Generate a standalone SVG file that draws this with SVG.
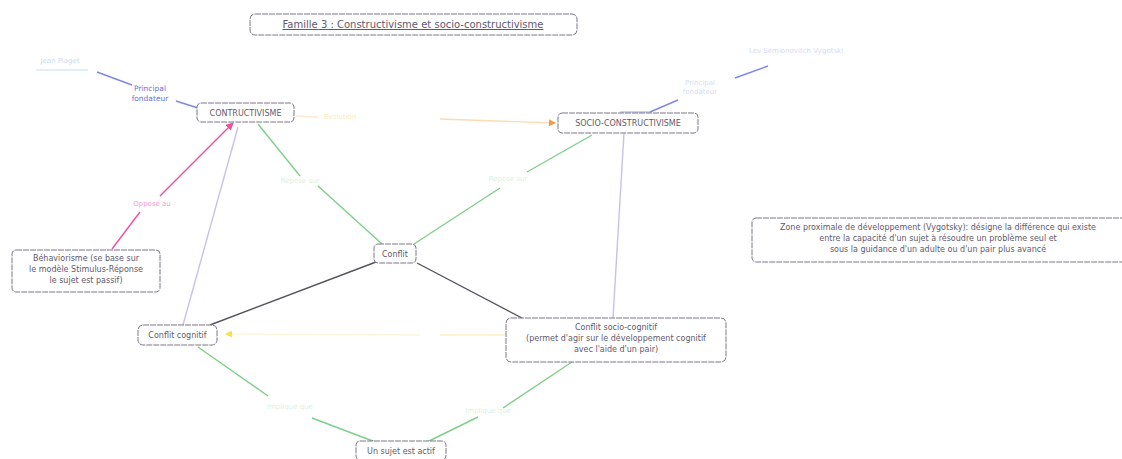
<svg xmlns="http://www.w3.org/2000/svg" width="1122" height="459" viewBox="0 0 1122 459">
<defs>
<style>
text{font-family:"DejaVu Sans","Liberation Sans",sans-serif;font-size:8px;fill:#5f596e;text-anchor:middle}
.box{fill:#fff;stroke:#7c768a;stroke-width:1;stroke-dasharray:6 1}
.faint{font-size:7px}
.conn{fill:none;stroke-width:1.4}
</style>
<marker id="arrPink" markerWidth="8" markerHeight="8" refX="7" refY="4" orient="auto" markerUnits="userSpaceOnUse"><path d="M0,0 L8,4 L0,8 z" fill="#f0509c"/></marker>
<marker id="arrOrange" markerWidth="7" markerHeight="7" refX="6" refY="3.5" orient="auto" markerUnits="userSpaceOnUse"><path d="M0,0 L7,3.5 L0,7 z" fill="#f39a45"/></marker>
<marker id="arrYellow" markerWidth="7" markerHeight="7" refX="6" refY="3.5" orient="auto" markerUnits="userSpaceOnUse"><path d="M0,0 L7,3.5 L0,7 z" fill="#f5e24a"/></marker>
</defs>
<rect width="1122" height="459" fill="#fff"/>

<g id="connectors">
<!-- Piaget -> CONSTRUCTIVISME -->
<path class="conn" d="M97,72 L132,85" stroke="#7f86e6"/>
<path class="conn" d="M176,101 L198,108" stroke="#7f86e6"/>
<text x="150" y="91" style="fill:#6a6fd8;font-size:7.5px">Principal</text>
<text x="150" y="101" style="fill:#6a6fd8;font-size:7.5px">fondateur</text>
<!-- Vygotski -> SOCIO -->
<path class="conn" d="M768,66 L735,78" stroke="#7f86e6"/>
<path class="conn" d="M678,100 L650,112" stroke="#7f86e6"/>
<path d="M620,112 L650,112" stroke="#9aa0ee" stroke-width="1"/>
<text x="700" y="85" class="faint" style="fill:#d8daf5">Principal</text>
<text x="700" y="94" class="faint" style="fill:#d8daf5">fondateur</text>
<!-- CONSTRUCTIVISME -> SOCIO (orange) -->
<path class="conn" d="M296,116 L318,117" stroke="#fde9d2"/>
<path class="conn" d="M440,119 L555,123" stroke="#fbdcb4" marker-end="url(#arrOrange)"/>
<text x="340" y="119" class="faint" style="fill:#fbe9c0">Évolution</text>
<!-- Béhaviorisme -> CONSTRUCTIVISME (pink) -->
<path class="conn" d="M112,249 L140,212" stroke="#f0509c"/>
<path class="conn" d="M160,196 L233,123" stroke="#f0509c" marker-end="url(#arrPink)"/>
<text x="152" y="206" class="faint" style="fill:#f29ccf">Opposé au</text>
<!-- CONSTRUCTIVISME -> Conflit cognitif (lavender) -->
<path class="conn" d="M238,127 L183,325" stroke="#cbc0ec" stroke-width="1"/>
<!-- CONSTRUCTIVISME -> Conflit (green) -->
<path class="conn" d="M258,124 L300,176" stroke="#7fcf8a"/>
<path class="conn" d="M318,186 L382,244" stroke="#7fcf8a"/>
<text x="300" y="183" class="faint" style="fill:#dcf0df">Repose sur</text>
<!-- SOCIO -> Conflit (green) -->
<path class="conn" d="M592,135 L527,172" stroke="#7fcf8a"/>
<path class="conn" d="M500,188 L414,244" stroke="#7fcf8a"/>
<text x="508" y="181" class="faint" style="fill:#dcf0df">Repose sur</text>
<!-- SOCIO -> Conflit socio-cognitif (lavender) -->
<path class="conn" d="M624,133 L613,318" stroke="#cbc0ec" stroke-width="1"/>
<!-- Conflit -> Conflit cognitif (dark) -->
<path class="conn" d="M376,262 L210,325" stroke="#55525e"/>
<!-- Conflit -> Conflit socio-cognitif (dark) -->
<path class="conn" d="M417,263 L522,318" stroke="#55525e"/>
<!-- Conflit socio-cognitif -> Conflit cognitif (yellow) -->
<path class="conn" d="M505,335 L440,335" stroke="#fdf0c0"/>
<path class="conn" d="M420,335 L226,334" stroke="#fdf5da" marker-end="url(#arrYellow)"/>
<!-- Conflit cognitif -> Un sujet est actif (green) -->
<path class="conn" d="M198,347 L268,396" stroke="#7fcf8a"/>
<path class="conn" d="M312,418 L378,443" stroke="#7fcf8a"/>
<text x="290" y="409" class="faint" style="fill:#dcf0df">Implique que</text>
<!-- Conflit socio-cognitif -> Un sujet est actif (green) -->
<path class="conn" d="M572,362 L503,408" stroke="#7fcf8a"/>
<path class="conn" d="M478,417 L425,443" stroke="#7fcf8a"/>
<text x="488" y="413" class="faint" style="fill:#dcf0df">Implique que</text>
</g>

<g id="title">
<rect class="box" x="250" y="14" width="327" height="21" rx="5"/>
<text x="413" y="28" style="font-size:10px;text-decoration:underline">Famille 3 : Constructivisme et socio-constructivisme</text>
</g>

<g id="piaget">
<text x="60" y="63" class="faint" style="fill:#c9dbf5">Jean Piaget</text>
<path d="M36,70 L88,70" stroke="#c9dbf5" stroke-width="1"/>
</g>

<g id="vygotski">
<text x="796" y="53" class="faint" style="fill:#d8daf2">Lev Semionovitch Vygotski</text>
</g>

<g id="constructivisme">
<rect class="box" x="197" y="103" width="97" height="19" rx="4"/>
<text x="245.5" y="115.5">CONTRUCTIVISME</text>
</g>

<g id="socio">
<rect class="box" x="558" y="113" width="140" height="20" rx="4"/>
<text x="628" y="126">SOCIO-CONSTRUCTIVISME</text>
</g>

<g id="behaviorisme">
<rect class="box" x="12" y="250" width="148" height="42" rx="4"/>
<text x="86" y="261">Béhaviorisme (se base sur</text>
<text x="86" y="272">le modèle Stimulus-Réponse</text>
<text x="86" y="283">le sujet est passif)</text>
</g>

<g id="conflit">
<rect class="box" x="374" y="244" width="42" height="19" rx="4"/>
<text x="395" y="256.5">Conflit</text>
</g>

<g id="conflit-cognitif">
<rect class="box" x="138" y="325" width="79" height="20" rx="5"/>
<text x="177.5" y="338">Conflit cognitif</text>
</g>

<g id="conflit-socio-cognitif">
<rect class="box" x="506" y="318" width="220" height="44" rx="5"/>
<text x="616" y="330">Conflit socio-cognitif</text>
<text x="616" y="341">(permet d'agir sur le développement cognitif</text>
<text x="616" y="352">avec l'aide d'un pair)</text>
</g>

<g id="sujet-actif">
<rect class="box" x="356" y="441" width="90" height="19" rx="4"/>
<text x="401" y="454">Un sujet est actif</text>
</g>

<g id="zpd">
<rect class="box" x="752" y="218" width="375" height="44" rx="4"/>
<text x="938" y="230">Zone proximale de développement (Vygotsky): désigne la différence qui existe</text>
<text x="938" y="241">entre la capacité d'un sujet à résoudre un problème seul et</text>
<text x="938" y="252">sous la guidance d'un adulte ou d'un pair plus avancé</text>
</g>
</svg>
